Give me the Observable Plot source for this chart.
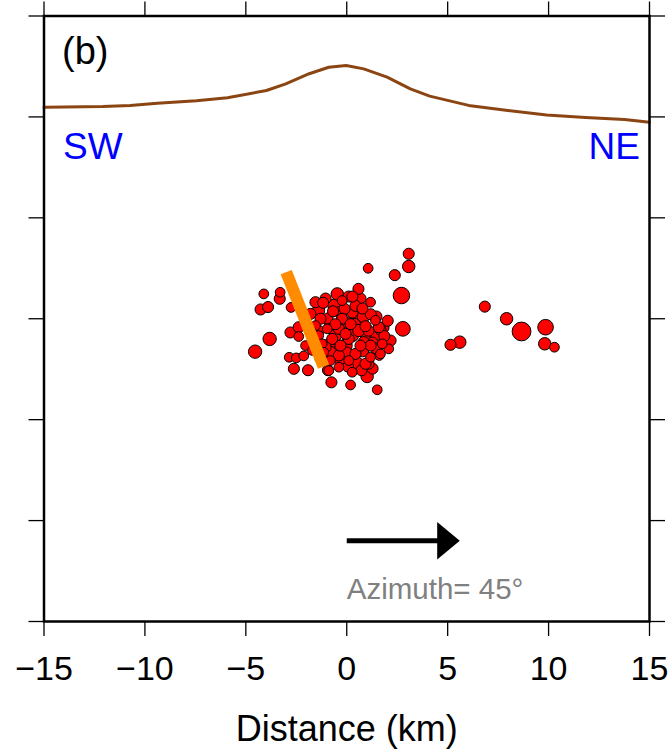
<!DOCTYPE html>
<html>
<head>
<meta charset="utf-8">
<script src="https://cdn.jsdelivr.net/npm/d3@7"></script>
<script src="https://cdn.jsdelivr.net/npm/@observablehq/plot@0.6"></script>
<style>
  html, body { margin: 0; padding: 0; background: #fff; }
  #chart svg { display: block; }
</style>
</head>
<body>
<div id="chart"></div>
<script>
// ---- Data (distance along profile in km, depth in km, magnitude) ----
const eventX = [-1.40,-0.95,-0.31,0.28,0.83,1.47,-0.81,-0.01,0.38,1.08,-1.40,-0.56,0.28,1.28,1.92,-0.81,-0.01,0.78,1.47,-0.31,0.48,1.28,-1.30,0.09,-1.05,0.68,1.82,2.17,-1.55,0.93,
  3.07,3.07,1.06,2.38,2.71,-4.11,-3.30,-3.32,-4.27,-3.90,-0.47,0.58,-1.55,-1.17,-2.76,-0.61,-0.68,-0.11,0.43,0.56,1.19,2.03,2.78,-3.82,-4.54,-2.79,-2.38,-2.85,-2.50,-2.13,-2.62,-1.92,-0.93,-0.76,0.19,1.01,1.51,0.73,1.08,0.06,1.61,1.33,1.67,1.86,6.84,7.92,8.66,9.85,9.81,10.29,5.14,5.60,-0.23,-1.80,-2.38,-0.23,-1.30,-0.39,0.60,1.59,-0.97,-0.72,0.10,0.84,-0.06,-1.05,0.43,-0.39,1.18,1.67,-0.81,0.10,0.93,-0.39,-0.89,0.27,-1.55,-1.39,-1.22,-1.14,1.18,2.08,1.76,-0.90,0.19,0.93,-0.56,0.28,-0.06,1.18,0.68,-0.31,-1.80,-2.04,-1.70,0.78,1.42];
const eventDepth = [9.59,9.99,9.69,9.69,9.89,9.89,10.38,10.19,10.29,10.59,10.59,10.83,10.83,11.18,11.18,11.67,11.67,11.58,11.48,12.07,12.17,12.47,11.97,8.90,9.00,9.00,10.44,11.08,11.08,10.73,
  6.78,7.41,7.50,7.84,8.85,8.77,8.69,9.01,9.54,9.42,8.77,8.52,9.18,9.21,9.44,9.35,9.63,9.51,9.36,9.87,9.78,10.10,10.50,11.00,11.63,10.68,10.88,11.91,11.94,11.84,12.48,12.55,12.55,13.15,13.28,12.86,13.52,12.55,12.23,12.37,11.82,10.87,10.54,10.86,9.40,10.00,10.63,10.42,11.24,11.41,11.29,11.16,10.00,9.76,10.42,9.10,10.00,10.50,10.58,10.42,10.50,11.00,11.00,11.16,11.33,11.41,11.74,11.82,11.91,11.74,12.07,12.07,12.23,12.40,12.57,12.65,10.34,10.83,11.24,11.66,9.18,11.49,11.24,11.33,10.27,10.37,10.27,8.90,10.75,11.33,11.33,11.33,10.58,11.33,11.57,9.49,10.08];
const eventMag = [1.6,1.3,1.6,1.3,1.6,1.3,1.6,1.3,1.6,1.3,1.3,1.6,1.6,1.3,1.3,1.6,1.3,1.6,1.3,1.3,1.6,1.3,1.3,1.3,1.3,1.3,1.3,1.3,1.3,1.6,
  1.3,1.6,1.0,1.3,2.5,1.0,1.0,1.3,1.3,1.3,1.6,1.3,1.3,1.3,1.0,1.8,1.3,1.3,1.3,2.1,1.3,1.3,2.1,1.8,1.8,1.3,1.0,1.0,1.0,1.0,1.3,1.3,1.3,1.3,1.0,1.6,1.0,1.3,1.3,1.3,1.0,1.8,1.3,1.3,1.3,1.6,3.0,2.3,1.6,1.0,1.3,1.6,1.3,1.3,1.3,1.0,1.3,1.3,1.6,1.3,1.0,1.3,1.3,1.3,1.8,1.3,1.3,1.3,1.0,1.0,1.0,1.0,1.3,1.0,1.0,1.0,1.0,1.0,1.0,1.0,1.0,1.0,1.0,1.8,1.3,1.3,1.3,1.3,1.3,1.3,1.3,1.3,1.0,1.0,1.0,1.3,1.0];

// Topography along the profile (depth in km, negative = above sea level)
const topoX = [-15.0,-14.93,-12.09,-10.73,-9.38,-7.45,-5.91,-3.98,-3.02,-1.86,-0.89,-0.03,0.84,2.00,3.15,4.11,6.04,7.98,9.90,11.83,13.76,15.0];
const topoDepth = [-0.48,-0.48,-0.52,-0.57,-0.68,-0.80,-0.95,-1.31,-1.64,-2.14,-2.46,-2.55,-2.38,-1.97,-1.39,-1.03,-0.57,-0.32,-0.10,0.03,0.13,0.26];

// Fault segment (orange bar)
const faultX = [-3.00, -1.15];
const faultDepth = [7.69, 12.37];

// Azimuth arrow
const arrowX = [0, 5.6];
const arrowDepth = 21.0;
const arrowHeadLength = 1.12;
const arrowHeadHalfWidth = 0.93;
const azimuthText = "Azimuth= 45°";
const azimuthTextDepth = 23.87;

// Axis ticks
const xTicks = [-15, -10, -5, 0, 5, 10, 15];
const yTicks = [-5, 0, 5, 10, 15, 20, 25];
const panelLabel = "(b)";
const leftLabel = "SW";
const rightLabel = "NE";
const xLabel = "Distance (km)";

// ---- Build tables ----
const events = eventX.map((x, i) => ({x, depth: eventDepth[i], mag: eventMag[i]}));
const topo = topoX.map((x, i) => ({x, depth: topoDepth[i]}));
const fault = [{x1: faultX[0], y1: faultDepth[0], x2: faultX[1], y2: faultDepth[1]}];
const baseX = arrowX[1] - arrowHeadLength;
const arrowShaft = [{x1: arrowX[0], x2: baseX + 0.05, y: arrowDepth}];
const arrowHead = [
  {x: baseX, depth: arrowDepth - arrowHeadHalfWidth},
  {x: arrowX[1], depth: arrowDepth},
  {x: baseX, depth: arrowDepth + arrowHeadHalfWidth}
];

const font = "'Liberation Sans', Helvetica, Arial, sans-serif";

const chart = Plot.plot({
  width: 668,
  height: 752,
  marginLeft: 43.5,
  marginRight: 19,
  marginTop: 15.5,
  marginBottom: 131,
  style: {fontFamily: font, fontSize: "34px", color: "black", background: "white"},
  x: {domain: [-15, 15]},
  y: {domain: [25, -5]},
  r: {type: "linear", domain: [0, 3], range: [2.6, 9.4]},
  marks: [
    Plot.axisX({anchor: "bottom", ticks: xTicks, tickSize: 15, tickPadding: 19, strokeWidth: 1.3, label: null, fontSize: 34}),
    Plot.axisX({anchor: "top", ticks: xTicks, tickSize: 15, strokeWidth: 1.3, tickFormat: () => "", label: null}),
    Plot.axisY({anchor: "left", ticks: yTicks, tickSize: 15, strokeWidth: 1.3, tickFormat: () => "", label: null}),
    Plot.axisY({anchor: "right", ticks: yTicks, tickSize: 15, strokeWidth: 1.3, tickFormat: () => "", label: null}),
    Plot.line(topo, {x: "x", y: "depth", stroke: "#8b4513", strokeWidth: 3}),
    Plot.dot(events, {x: "x", y: "depth", r: "mag", fill: "#ff0000", stroke: "black", strokeWidth: 1}),
    Plot.link(fault, {x1: "x1", y1: "y1", x2: "x2", y2: "y2", stroke: "#ff8c00", strokeWidth: 12, strokeLinecap: "butt"}),
    Plot.link(arrowShaft, {x1: "x1", x2: "x2", y1: "y", y2: "y", stroke: "black", strokeWidth: 5, strokeLinecap: "butt"}),
    Plot.line(arrowHead, {x: "x", y: "depth", fill: "black", stroke: "none"}),
    Plot.text([azimuthText], {x: arrowX[0], y: azimuthTextDepth, text: d => d, textAnchor: "start", lineAnchor: "bottom", fill: "#808080", fontSize: 29.5}),
    Plot.text([panelLabel], {frameAnchor: "top-left", text: d => d, dx: 18, dy: 47.5, textAnchor: "start", lineAnchor: "bottom", fill: "black", fontSize: 38}),
    Plot.text([leftLabel], {frameAnchor: "top-left", text: d => d, dx: 19, dy: 142.5, textAnchor: "start", lineAnchor: "bottom", fill: "#0000ff", fontSize: 37}),
    Plot.text([rightLabel], {frameAnchor: "top-right", text: d => d, dx: -9.5, dy: 142.5, textAnchor: "end", lineAnchor: "bottom", fill: "#0000ff", fontSize: 37}),
    Plot.text([xLabel], {frameAnchor: "bottom", text: d => d, dy: 119, lineAnchor: "bottom", fill: "black", fontSize: 36}),
    Plot.frame({stroke: "black", strokeWidth: 2.5})
  ]
});
document.getElementById("chart").appendChild(chart);
</script>
</body>
</html>
